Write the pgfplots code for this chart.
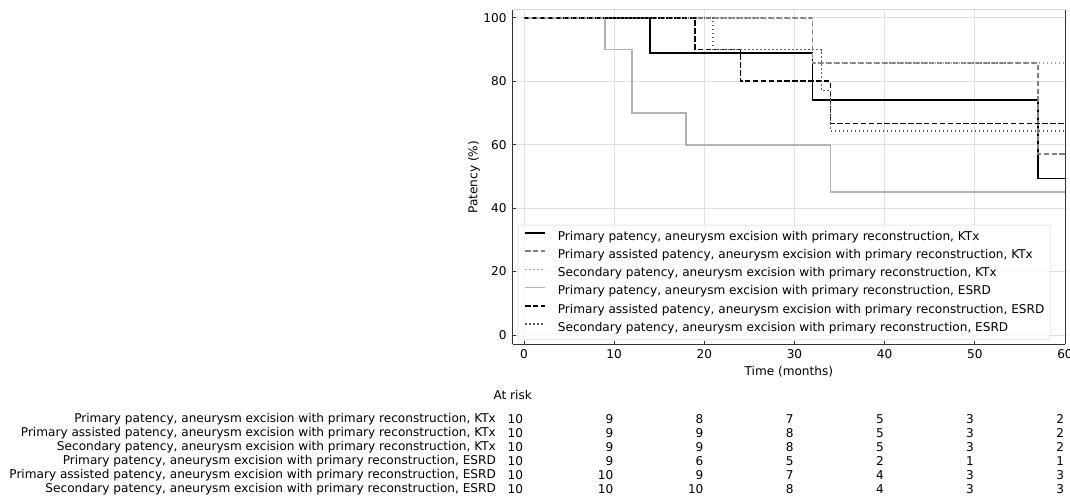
\documentclass[border=0pt]{standalone}
\usepackage{pgfplots}
\usepackage{pgfplotstable}
\pgfplotsset{compat=1.18}
\usepackage{fontspec}
\setmainfont{DejaVu Sans}

\definecolor{axisgray}{HTML}{333333}
\definecolor{topgray}{HTML}{D4D4D4}
\definecolor{gridgray}{HTML}{E0E0E0}
\definecolor{legframe}{HTML}{CCCCCC}
\definecolor{cPAk}{HTML}{7F7F7F}
\definecolor{cSk}{HTML}{A6A6A6}
\definecolor{cPe}{HTML}{B3B3B3}
\definecolor{cSe}{HTML}{5E5E5E}

% numbers at risk: x = month, r = row, n = count
\pgfplotstableread{
x  r n
0  1 10
10 1 9
20 1 8
30 1 7
40 1 5
50 1 3
60 1 2
0  2 10
10 2 9
20 2 9
30 2 8
40 2 5
50 2 3
60 2 2
0  3 10
10 3 9
20 3 9
30 3 8
40 3 5
50 3 3
60 3 2
0  4 10
10 4 9
20 4 6
30 4 5
40 4 2
50 4 1
60 4 1
0  5 10
10 5 10
20 5 9
30 5 7
40 5 4
50 5 3
60 5 3
0  6 10
10 6 10
20 6 10
30 6 8
40 6 4
50 6 3
60 6 3
}\atrisk

\tikzset{
  kmdash/.style={dash pattern=on 5.5bp off 2.4bp},
  kmdot/.style={dash pattern=on 1.5bp off 2.5bp},
}

\begin{document}
\begin{tikzpicture}[font=\fontsize{12.1bp}{14.5bp}\selectfont]
\path[use as bounding box] (-512.7bp,-155.7bp) rectangle (557.3bp,344.3bp);

\begin{axis}[
  at={(0,0)}, anchor=south west,
  scale only axis, width=552.3bp, height=334.3bp,
  xmin=-1.25, xmax=60, ymin=-2.93, ymax=102.5,
  xtick={0,10,...,60}, ytick={0,20,...,100},
  axis x line*=bottom, axis y line*=left,
  axis line style={draw=axisgray, line width=1bp},
  tick align=inside, major tick length=3.5bp,
  tick style={draw=axisgray, line width=0.9bp},
  grid=major, grid style={draw=gridgray, line width=0.9bp},
  /pgf/number format/assume math mode=true,
  xticklabel style={inner sep=0pt, yshift=-5.5bp},
  yticklabel style={inner sep=0pt, xshift=-6bp},
  xlabel={Time (months)}, ylabel={Patency (\%)},
  every axis x label/.style={at={(axis description cs:0.5,-0.082)}, anchor=center},
  every axis y label/.style={at={(axis description cs:-0.0701,0.5)}, rotate=90, anchor=center},
  clip=false,
  legend cell align=left,
  legend image code/.code={\draw[#1] (0bp,4bp) -- (20bp,4bp);},
  legend style={at={(0.0096,0.0129)}, anchor=south west,
    draw=legframe, rounded corners=2bp, fill=white, fill opacity=0.8, text opacity=1,
    inner xsep=6bp, inner ysep=6bp, row sep=6.6bp, column sep=12bp,
    nodes={inner sep=0pt, text height=9.1bp, text depth=2.5bp}},
]
\draw[axisgray, line width=1bp] (rel axis cs:1,0) -- (rel axis cs:1,1);
\draw[topgray, line width=1bp] (rel axis cs:0,1) -- (rel axis cs:1,1);

\addplot[const plot, black, line width=1.7bp] coordinates
  {(0,100) (14,88.9) (32,74.1) (57,49.4) (60,49.4)};
\addlegendentry{Primary patency, aneurysm excision with primary reconstruction, KTx}
\addplot[const plot, cPAk, line width=1.7bp, kmdash] coordinates
  {(0,100) (32,85.7) (57,57.1) (60,57.1)};
\addlegendentry{Primary assisted patency, aneurysm excision with primary reconstruction, KTx}
\addplot[const plot, cSk, line width=1.7bp, kmdot] coordinates
  {(0,100) (32,85.7) (60,85.7)};
\addlegendentry{Secondary patency, aneurysm excision with primary reconstruction, KTx}
\addplot[const plot, cPe, line width=1.7bp] coordinates
  {(0,100) (9,90) (12,70) (18,60) (34,45) (60,45)};
\addlegendentry{Primary patency, aneurysm excision with primary reconstruction, ESRD}
\addplot[const plot, black, line width=1.7bp, kmdash] coordinates
  {(0,100) (19,90) (24,80) (34,66.7) (60,66.7)};
\addlegendentry{Primary assisted patency, aneurysm excision with primary reconstruction, ESRD}
\addplot[const plot, cSe, line width=1.7bp, kmdot] coordinates
  {(0,100) (21,90) (33,77.1) (34,64.3) (60,64.3)};
\addlegendentry{Secondary patency, aneurysm excision with primary reconstruction, ESRD}
\end{axis}

% at-risk table
\begin{axis}[
  at={(0,-152bp)}, anchor=south west,
  scale only axis, width=552.3bp, height=84bp,
  xmin=-1.25, xmax=60, ymin=0.5, ymax=6.5, y dir=reverse,
  axis line style={draw=none}, tick style={draw=none},
  xtick=\empty, ytick={1,...,6},
  yticklabels={
    {Primary patency, aneurysm excision with primary reconstruction, KTx},
    {Primary assisted patency, aneurysm excision with primary reconstruction, KTx},
    {Secondary patency, aneurysm excision with primary reconstruction, KTx},
    {Primary patency, aneurysm excision with primary reconstruction, ESRD},
    {Primary assisted patency, aneurysm excision with primary reconstruction, ESRD},
    {Secondary patency, aneurysm excision with primary reconstruction, ESRD}},
  yticklabel style={anchor=east, inner sep=0pt, xshift=-16.7bp},
  title={At risk},
  title style={at={(axis description cs:0,1)}, anchor=center, yshift=11.6bp, inner sep=0pt},
  clip=false,
]
\addplot[draw=none, mark=none, nodes near coords, point meta=explicit symbolic,
  nodes near coords align={left},
  every node near coord/.append style={inner sep=0pt, xshift=-0.7bp, text=black}]
  table[x=x, y=r, meta=n] {\atrisk};
\end{axis}
\end{tikzpicture}
\end{document}
